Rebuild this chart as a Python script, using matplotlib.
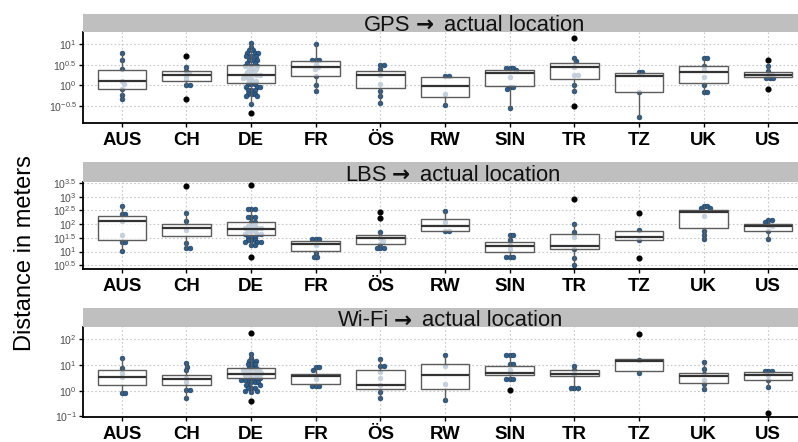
import numpy as np
import matplotlib
matplotlib.use('Agg')
import matplotlib.pyplot as plt

plt.rcParams['font.family'] = ['Liberation Sans', 'DejaVu Sans']
plt.rcParams['mathtext.fontset'] = 'custom'
plt.rcParams['mathtext.rm'] = 'Liberation Sans'
plt.rcParams['mathtext.default'] = 'regular'

countries = ['AUS', 'CH', 'DE', 'FR', 'ÖS', 'RW', 'SIN', 'TR', 'TZ', 'UK', 'US']

# ---- GPS -> actual location (metres) ----
gps_q1 = [0.805, 1.30, 1.12, 1.66, 0.865, 0.516, 0.95, 1.45, 0.705, 1.14, 1.57]
gps_med = [1.26, 1.78, 1.78, 2.78, 1.75, 0.985, 1.95, 2.73, 1.69, 2.14, 1.78]
gps_q3 = [2.35, 2.23, 3.16, 3.8, 2.23, 1.6, 2.35, 3.55, 1.95, 2.88, 2.14]
gps_wlo = [0.46, 1.0, 0.35, 0.73, 0.376, 0.33, 0.29, 0.745, 0.17, 0.68, 1.48]
gps_whi = [6.2, 2.82, 10.4, 10.0, 3.16, 1.66, 2.7, 4.5, 2.14, 4.57, 2.95]
gps_out = [[], [5.1, 0.46], [0.214], [], [], [], [], [14.1, 0.32], [], [], [4.04, 0.805]]
gps_pts = [
    [6.2, 4.1, 2.45, 1.26, 1.1, 0.81, 0.59, 0.46],
    [2.82, 2.2, 2.0, 1.7, 1.4, 1.0, 1.0],
    [10.5, 8.5, 7.1, 7.1, 6.0, 6.0, 6.0, 5.0, 5.0, 5.0,
     4.2, 4.2, 4.2, 3.55, 3.55, 3.0, 3.0, 3.0,
     2.5, 2.5, 2.5, 2.1, 2.1, 2.1, 1.78, 1.78, 1.78, 1.51, 1.51, 1.51,
     1.26, 1.26, 1.26, 1.05, 1.05, 1.05, 0.89, 0.89, 0.89, 0.76, 0.76, 0.76,
     0.63, 0.63, 0.63, 0.54, 0.54, 0.355],
    [10.0, 4.0, 4.0, 4.0, 3.2, 2.8, 2.5, 1.66, 1.02, 0.73],
    [3.16, 3.16, 2.5, 1.75, 1.07, 0.72, 0.54, 0.376],
    [1.66, 1.66, 0.61, 0.33],
    [2.7, 2.7, 2.7, 2.35, 1.6, 0.9, 0.9, 0.81, 0.29],
    [4.5, 3.8, 2.8, 1.78, 1.78, 1.02, 0.745],
    [2.14, 2.14, 0.705, 0.17],
    [4.57, 4.57, 3.0, 2.3, 1.58, 1.0, 0.68, 0.68],
    [2.95, 2.24, 1.78, 1.78, 1.5, 1.5, 1.5],
]

# ---- LBS -> actual location (metres) ----
lbs_q1 = [26.3, 36.7, 38.9, 10.7, 18.6, 56, 10, 12.3, 25.7, 72, 57.5]
lbs_med = [130, 72, 67.6, 18.6, 31, 87, 15.5, 15.8, 33, 275, 85]
lbs_q3 = [198, 100, 117.5, 24, 40.7, 155, 23, 42.7, 55, 324, 98]
lbs_wlo = [10.7, 13, 17.4, 6.5, 13.8, 56, 6.5, 3.2, 25.7, 29.5, 29.5]
lbs_whi = [457, 245, 372, 27.9, 50, 302, 40, 100, 59, 457, 138]
lbs_out = [[], [2450], [2700, 6.5], [], [275, 166], [], [], [850], [245, 5.9], [], []]
lbs_pts = [
    [457, 229, 229, 130, 40, 23, 23, 10.7],
    [245, 129, 60, 21, 13, 13],
    [372, 372, 372, 186, 186, 186, 123, 123, 89, 89, 89, 71, 71, 71,
     56, 56, 56, 45, 45, 45, 35, 35, 35, 26, 26, 26, 21.4, 21.4, 21.4, 17.4, 17.4],
    [27.9, 27.9, 27.9, 17, 8.5, 6.5, 6.5],
    [50, 31, 25, 18.6, 13.8, 13.8, 13.8],
    [302, 120, 56, 56],
    [40, 40, 26, 17, 12, 6.5, 6.5, 6.5],
    [100, 50, 35, 12.3, 5.6, 3.2],
    [59, 25.7],
    [457, 457, 380, 380, 200, 57, 41, 29.5],
    [138, 138, 115, 90, 85, 55, 29.5],
]

# ---- Wi-Fi -> actual location (metres) ----
wifi_q1 = [1.71, 1.66, 3.1, 1.78, 1.2, 1.2, 4.0, 3.6, 5.9, 1.95, 2.63]
wifi_med = [3.3, 2.75, 4.5, 3.7, 1.62, 4.0, 4.8, 4.37, 13.8, 3.6, 4.1]
wifi_q3 = [6.4, 4.0, 7.85, 4.37, 6.4, 11, 8.9, 6.2, 16.6, 5.0, 5.25]
wifi_wlo = [0.83, 0.5, 0.89, 1.48, 0.5, 0.44, 2.75, 1.32, 4.8, 1.12, 1.38]
wifi_whi = [18, 11.7, 26.3, 8.1, 17, 24, 24, 9.1, 16.6, 13.5, 5.9]
wifi_out = [[], [], [182, 0.4], [], [], [], [1.07], [], [155], [], [0.14]]
wifi_pts = [
    [18, 7.4, 5, 3.3, 0.83, 0.83],
    [11.7, 8.7, 6.3, 3.2, 2.2, 1.07, 1.07, 0.5],
    [26.3, 19, 14.1, 14.1, 14.1, 10.5, 10.5, 10.5, 7.9, 7.9, 7.9,
     6.3, 6.3, 6.3, 5.0, 5.0, 5.0, 4.0, 4.0, 4.0, 3.16, 3.16, 3.16,
     2.63, 2.63, 2.63, 2.14, 2.14, 2.14, 1.66, 1.66, 1.66,
     1.26, 1.26, 1.26, 1.0, 1.0, 0.89],
    [8.1, 8.1, 6.5, 2.8, 1.48, 1.48, 1.48],
    [17, 8.9, 8.9, 5.5, 3.2, 1.7, 0.91, 0.5],
    [24, 9.5, 1.8, 0.44],
    [24, 24, 24, 11, 11, 6.5, 4.8, 2.75, 2.75, 2.75],
    [9.1, 6.5, 4.3, 1.32, 1.32, 1.32],
    [16, 4.8],
    [13.5, 6.8, 4.6, 2.6, 1.8, 1.12],
    [5.9, 5.9, 5.9, 4.1, 2.6, 1.38],
]

gps_exp = [-0.5, 0, 0.5, 1]
lbs_exp = [0.5, 1, 1.5, 2, 2.5, 3, 3.5]
wifi_exp = [-1, 0, 1, 2]

W, H = 798, 442
fig = plt.figure(figsize=(W / 100, H / 100), dpi=100)
renderer = fig.canvas.get_renderer()


def swarm_offsets(ax, xc, vals, diam=3.4):
    # greedy beeswarm in pixel space, returns x positions in data units
    ppu = ax.transData.transform((1, 1))[0] - ax.transData.transform((0, 1))[0]
    placed = []
    xs = []
    for v in vals:
        yp = ax.transData.transform((xc, v))[1]
        k = 0
        while True:
            cands = [0.0] if k == 0 else [k * 0.5, -k * 0.5]
            ok = None
            for off in cands:
                if all((off - px) ** 2 + (yp - py) ** 2 >= diam ** 2 for px, py in placed):
                    ok = off
                    break
            if ok is not None:
                placed.append((ok, yp))
                xs.append(xc + ok / ppu)
                break
            k += 1
    return xs


def strip_title(xc, ybase, left, right):
    # "left → right" with a heavier arrow, centred on xc (pixels)
    yb = 1 - ybase / H
    t1 = fig.text(0, yb, left, fontsize=15.8, color='#111111', va='baseline')
    t2 = fig.text(0, yb, '\u2192', fontsize=15.5, color='#111111', va='baseline',
                  family='DejaVu Sans', fontweight='bold')
    t3 = fig.text(0, yb, right, fontsize=15.8, color='#111111', va='baseline')
    w1, w2, w3 = [t.get_window_extent(renderer).width for t in (t1, t2, t3)]
    g1, g2 = 5, 10
    x0 = xc - (w1 + g1 + w2 + g2 + w3) / 2
    t1.set_x(x0 / W)
    t2.set_x((x0 + w1 + g1) / W)
    t3.set_x((x0 + w1 + g1 + w2 + g2) / W)


def panel(top, bottom, strip_top, left, right, title_x, q1, med, q3, wlo, whi, outl, pts, exps, ylim):
    ax = fig.add_axes([83 / W, 1 - bottom / H, 724 / W, (bottom - top) / H])
    ax.set_yscale('log')
    ax.set_xlim(0.4, 11.6)
    ax.set_ylim(10 ** ylim[0], 10 ** ylim[1])
    ax.minorticks_off()
    x = np.arange(1, len(countries) + 1)

    # grid
    for e in exps:
        ax.axhline(10 ** e, color='#c8c8c8', lw=0.8, ls=(0, (1.5, 2)), zorder=0)
    for xi in x:
        ax.axvline(xi, color='#c8c8c8', lw=0.8, ls=(0, (1.5, 2)), zorder=0)

    # points
    for i in range(len(countries)):
        xs = swarm_offsets(ax, x[i], pts[i])
        ax.scatter(xs, pts[i], s=12, color='#2f5d8a', edgecolors='#1d3d5e',
                   linewidths=0.4, zorder=2)

    stats = []
    for i in range(len(countries)):
        stats.append({'med': med[i], 'q1': q1[i], 'q3': q3[i],
                      'whislo': wlo[i], 'whishi': whi[i], 'fliers': outl[i]})
    ax.bxp(stats, positions=x, widths=0.75, showcaps=False, patch_artist=True,
           boxprops=dict(facecolor=(1, 1, 1, 0.72), edgecolor='#5c5c5c', lw=1.0),
           medianprops=dict(color='#333333', lw=1.6),
           whiskerprops=dict(color='#5c5c5c', lw=1.0),
           flierprops=dict(marker='o', markerfacecolor='black', markeredgecolor='black',
                           markersize=3.4),
           zorder=3)

    ax.set_xticks(x)
    ax.set_xticklabels(countries, fontsize=13.4, fontweight='bold', color='black')
    ax.set_yticks([10 ** e for e in exps])
    ax.set_yticklabels(['$10^{%g}$' % e for e in exps], fontsize=7.6, color='#4d4d4d')
    ax.tick_params(axis='x', length=3, width=1, pad=3.5)
    ax.tick_params(axis='y', length=3.2, width=1, pad=1.5)
    for s in ['top', 'right']:
        ax.spines[s].set_visible(False)
    for s in ['left', 'bottom']:
        ax.spines[s].set_linewidth(1.3)
        ax.spines[s].set_color('black')

    # strip
    st = fig.add_axes([83 / W, 1 - top / H, 724 / W, (top - strip_top) / H])
    st.set_facecolor('#bfbfbf')
    st.set_xticks([])
    st.set_yticks([])
    for s in st.spines.values():
        s.set_visible(False)
    strip_title(title_x, top - 0.8, left, right)


panel(32, 123, 14, 'GPS', 'actual location', 474,
      gps_q1, gps_med, gps_q3, gps_wlo, gps_whi, gps_out, gps_pts, gps_exp, (-0.91, 1.29))
panel(182, 269.3, 161.7, 'LBS', 'actual location', 453,
      lbs_q1, lbs_med, lbs_q3, lbs_wlo, lbs_whi, lbs_out, lbs_pts, lbs_exp, (0.35, 3.54))
panel(327.3, 417.3, 308, 'Wi-Fi', 'actual location', 450,
      wifi_q1, wifi_med, wifi_q3, wifi_wlo, wifi_whi, wifi_out, wifi_pts, wifi_exp, (-1.04, 2.47))

fig.text(25 / W, 1 - 253 / H, 'Distance in meters', rotation=90, fontsize=17,
         ha='center', va='center')

fig.savefig('out.png', dpi=100)
